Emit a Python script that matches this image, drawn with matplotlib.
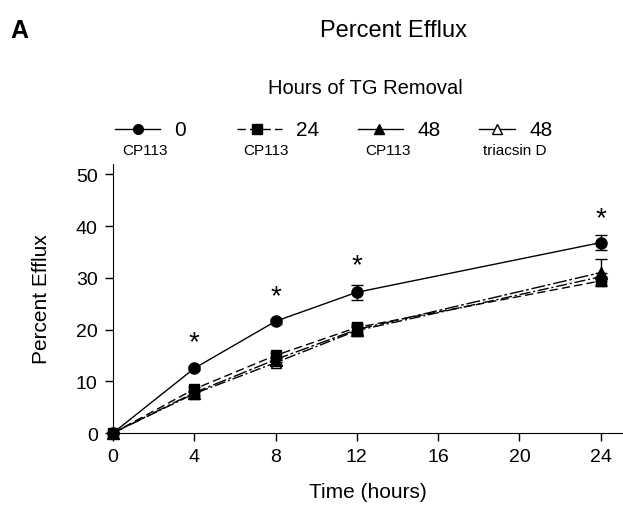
import matplotlib.pyplot as plt
from matplotlib.lines import Line2D

plt.rcParams['font.family'] = ['Liberation Sans', 'DejaVu Sans']

hours = [0, 4, 8, 12, 24]
cp0 = [0, 12.5, 21.6, 27.2, 36.8]
cp0_err = [0, 0.4, 0.5, 1.4, 1.5]
cp24 = [0, 8.5, 15.0, 20.4, 29.4]
cp24_err = [0, 0.4, 0.5, 0.6, 0.8]
cp48 = [0, 7.8, 14.2, 20.0, 31.0]
cp48_err = [0, 0.4, 0.5, 0.6, 2.6]
tri48 = [0, 7.6, 13.6, 19.8, 30.2]
tri48_err = [0, 0.4, 0.5, 0.6, 0.8]

star_hours = [4, 8, 12, 24]
star_y = [17.5, 26.5, 32.5, 41.5]

fig = plt.figure(figsize=(6.23, 5.10), dpi=100)
ax = fig.add_axes([0.1814, 0.149, 0.8186, 0.5275])

ax.errorbar(hours, tri48, yerr=tri48_err, color='black', lw=1, ls=(0, (8, 2, 1.5, 2)),
            marker='^', mfc='white', mec='black', ms=7, capsize=4, clip_on=False, zorder=3)
ax.errorbar(hours, cp48, yerr=cp48_err, color='black', lw=1, ls=(0, (10, 2, 2, 2)),
            marker='^', mfc='black', mec='black', ms=8, capsize=4, clip_on=False, zorder=4)
ax.errorbar(hours, cp24, yerr=cp24_err, color='black', lw=1, ls=(0, (6, 3)),
            marker='s', mfc='black', mec='black', ms=7.5, capsize=4, clip_on=False, zorder=5)
ax.errorbar(hours, cp0, yerr=cp0_err, color='black', lw=1, ls='-',
            marker='o', mfc='black', mec='black', ms=8, capsize=4, clip_on=False, zorder=6)

for h, s in zip(star_hours, star_y):
    ax.text(h, s, '*', ha='center', va='center', fontsize=20)

ax.set_xlim(0, 25.1)
ax.set_ylim(0, 52)
ax.set_xticks([0, 4, 8, 12, 16, 20, 24])
ax.set_yticks([0, 10, 20, 30, 40, 50])
ax.tick_params(direction='out', length=6, width=1, labelsize=14, pad=5)
ax.spines['top'].set_visible(False)
ax.spines['right'].set_visible(False)
ax.set_xlabel('Time (hours)', fontsize=15, labelpad=12)
ax.set_ylabel('Percent Efflux', fontsize=15, labelpad=18)

# legend drawn by hand in figure pixel coordinates
W, H = 623, 510
def fx(px):
    return px / W
def fy(py):
    return 1 - py / H

entries = [
    (115, 160, 138, '-', 'o', 'black', '0', 'CP113', 145),
    (237, 282, 257, (0, (6, 3)), 's', 'black', '24', 'CP113', 266),
    (358, 403, 379, '-', '^', 'black', '48', 'CP113', 388),
    (479, 515, 497, '-', '^', 'white', '48', 'triacsin D', 515),
]
for x0, x1, xm, ls, mk, fc, num, sub, xs in entries:
    fig.add_artist(Line2D([fx(x0), fx(x1)], [fy(130), fy(130)], color='black', lw=1, ls=ls))
    fig.add_artist(Line2D([fx(xm)], [fy(130)], marker=mk, mfc=fc, mec='black', ms=7, ls=''))
    fig.text(fx(x1 + 14), fy(130), num, fontsize=15, va='center', ha='left')
    fig.text(fx(xs), fy(151), sub, fontsize=11, va='center', ha='center')

fig.text(fx(365), fy(89), 'Hours of TG Removal', fontsize=14.5, ha='center', va='center')
fig.text(fx(393), fy(31), 'Percent Efflux', fontsize=17, ha='center', va='center')
fig.text(fx(10), fy(31), 'A', fontsize=18, fontweight='bold', ha='left', va='center')

fig.savefig('out.png', dpi=100)
